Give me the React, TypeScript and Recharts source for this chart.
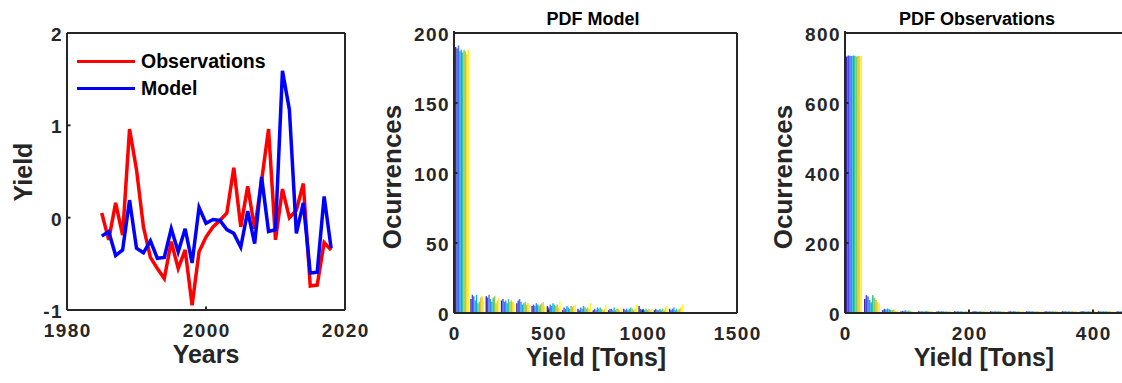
import { Bar, BarChart, Legend, Line, LineChart, XAxis, YAxis } from 'recharts'

// ---- yield anomalies ----
const years = [
  1985, 1986, 1987, 1988, 1989, 1990, 1991, 1992, 1993, 1994, 1995, 1996,
  1997, 1998, 1999, 2000, 2001, 2002, 2003, 2004, 2005, 2006, 2007, 2008,
  2009, 2010, 2011, 2012, 2013, 2014, 2015, 2016, 2017, 2018
]
const observations = [
  0.05, -0.24, 0.16, -0.19, 0.96, 0.52, -0.1, -0.43, -0.55, -0.66, -0.26,
  -0.55, -0.35, -0.95, -0.37, -0.21, -0.1, -0.03, 0.05, 0.54, -0.1, 0.34,
  -0.12, 0.4, 0.96, -0.24, 0.31, 0.0, 0.08, 0.37, -0.74, -0.73, -0.27, -0.35
]
const model = [
  -0.2, -0.15, -0.41, -0.35, 0.19, -0.33, -0.38, -0.25, -0.44, -0.43, -0.12,
  -0.37, -0.12, -0.49, 0.11, -0.06, -0.02, -0.03, -0.13, -0.17, -0.32, 0.07,
  -0.28, 0.44, -0.15, -0.13, 1.59, 1.17, -0.17, 0.16, -0.6, -0.59, 0.23, -0.33
]
const legendOrder = ['Observations', 'Model']

// ---- PDF model histogram (bin centers in tons, one row per run) ----
const modelBins = [
  40.5, 121.5, 202.5, 283.5, 364.5, 445.5, 526.5, 607.5, 688.5, 769.5, 850.5,
  931.5, 1012.5, 1093.5, 1174.5
]
const modelCounts = [
  [190, 10, 12, 9, 7, 5, 5, 2, 3, 2, 2, 3, 5, 2, 3],
  [189, 13, 11, 10, 9, 6, 4, 4, 2, 3, 3, 2, 3, 3, 2],
  [191, 12, 13, 8, 10, 5, 6, 3, 4, 2, 3, 3, 2, 2, 3],
  [187, 9, 10, 9, 8, 7, 5, 5, 3, 4, 2, 2, 3, 2, 4],
  [188, 13, 8, 7, 6, 6, 7, 4, 5, 3, 4, 3, 2, 3, 2],
  [186, 7, 11, 10, 7, 5, 6, 3, 4, 4, 2, 4, 3, 2, 3],
  [188, 8, 12, 8, 8, 6, 5, 5, 3, 3, 3, 3, 2, 3, 2],
  [187, 11, 7, 9, 6, 7, 6, 4, 4, 2, 3, 2, 3, 2, 3],
  [185, 12, 9, 8, 7, 8, 4, 5, 3, 3, 2, 3, 2, 4, 4],
  [188, 9, 11, 7, 6, 5, 8, 6, 7, 6, 4, 6, 3, 5, 6]
]

// ---- PDF observations histogram ----
const obsBins = [
  14.5, 43.5, 72.5, 101.5, 130.5, 159.5, 188.5, 217.5, 246.5, 275.5, 304.5,
  333.5, 362.5, 391.5, 420.5, 449.5
]
const obsCounts = [
  [733, 40, 8, 4, 5, 4, 5, 4, 5, 4, 5, 4, 5, 4, 5, 4],
  [736, 51, 12, 6, 4, 5, 4, 5, 4, 5, 4, 5, 4, 5, 4, 5],
  [735, 47, 10, 5, 5, 4, 5, 5, 4, 4, 5, 4, 5, 5, 4, 4],
  [734, 37, 13, 8, 4, 5, 4, 4, 5, 5, 4, 5, 4, 4, 5, 5],
  [736, 30, 11, 4, 5, 5, 5, 4, 4, 5, 5, 4, 5, 4, 4, 5],
  [735, 51, 9, 7, 6, 4, 4, 5, 5, 4, 4, 5, 4, 5, 5, 4],
  [733, 44, 8, 5, 5, 5, 4, 4, 5, 5, 4, 4, 5, 5, 4, 5],
  [734, 37, 10, 4, 4, 4, 5, 5, 4, 4, 5, 5, 4, 4, 5, 4],
  [735, 31, 7, 3, 5, 5, 4, 4, 5, 4, 4, 5, 5, 4, 4, 5],
  [734, 28, 6, 3, 4, 4, 5, 5, 4, 5, 5, 4, 4, 5, 5, 4]
]

// parula
const runColors = [
  '#3E26A8', '#4747EB', '#3E6FFF', '#2796EB', '#08B5D0',
  '#31C69F', '#81CC59', '#DCBD29', '#FCCF30', '#F9FB0E'
]

const AXIS = '#262626'
const FONT = "'Liberation Sans', Arial, Helvetica, sans-serif"
const tickStyle = {
  fontFamily: FONT,
  fontWeight: 700,
  fontSize: 19,
  letterSpacing: 1.4,
  fill: AXIS
}
const labelStyle = { fontFamily: FONT, fontWeight: 700, fill: AXIS }

const lineData = years.map((year, i) => ({
  year,
  obs: observations[i],
  model: model[i]
}))

const toRows = (bins: number[], counts: number[][]) =>
  bins.map((x, b) => {
    const row: any = { x }
    counts.forEach((run, r) => {
      row['r' + r] = run[b]
    })
    return row
  })

const modelData = toRows(modelBins, modelCounts)
const obsData = toRows(obsBins, obsCounts)

const BottomTick = ({ x, y, payload }: any) => (
  <g>
    <line x1={x} y1={y} x2={x} y2={y - 3.5} stroke={AXIS} strokeWidth={2} />
    <text x={x + 0.7} y={y + 27} textAnchor='middle' style={tickStyle}>
      {payload.value}
    </text>
  </g>
)

const LeftTick = ({ x, y, payload }: any) => (
  <g>
    <line x1={x} y1={y} x2={x + 3.5} y2={y} stroke={AXIS} strokeWidth={2} />
    <text x={x - 4} y={y + 8} textAnchor='end' style={tickStyle}>
      {payload.value}
    </text>
  </g>
)

const TopTick = ({ x, y }: any) => (
  <line x1={x} y1={y} x2={x} y2={y + 3.5} stroke={AXIS} strokeWidth={2} />
)

const RightTick = ({ x, y }: any) => (
  <line x1={x} y1={y} x2={x - 3.5} y2={y} stroke={AXIS} strokeWidth={2} />
)

const axisLine = { stroke: AXIS, strokeWidth: 2 }

const LegendBox = ({ payload }: any) => {
  const items = [...(payload || [])].sort(
    (a: any, b: any) => legendOrder.indexOf(a.value) - legendOrder.indexOf(b.value)
  )
  return (
    <div
      style={{
        fontFamily: FONT,
        fontWeight: 700,
        fontSize: 19.5,
        color: '#000'
      }}
    >
      {items.map((p: any) => (
        <div
          key={p.value}
          style={{ display: 'flex', alignItems: 'center', height: 27 }}
        >
          <span
            style={{
              display: 'inline-block',
              width: 58,
              height: 3.5,
              background: p.color,
              marginRight: 6
            }}
          />
          {p.value}
        </div>
      ))}
    </div>
  )
}

function Histogram({
  data,
  xDomain,
  xTicks,
  yDomain,
  yTicks,
  barSize,
  left,
  width,
  margin
}: any) {
  return (
    <div style={{ position: 'absolute', left, top: 0 }}>
      <BarChart
        width={width}
        height={383}
        data={data}
        margin={margin}
        barGap={0}
        barCategoryGap={0}
        barSize={barSize}
      >
        <XAxis
          dataKey='x'
          type='number'
          domain={xDomain}
          ticks={xTicks}
          height={40}
          tickSize={0}
          tickMargin={0}
          tickLine={false}
          axisLine={axisLine}
          tick={<BottomTick />}
          interval={0}
        />
        <XAxis
          xAxisId='t'
          orientation='top'
          type='number'
          domain={xDomain}
          ticks={xTicks}
          height={1}
          tickSize={0}
          tickLine={false}
          axisLine={axisLine}
          tick={<TopTick />}
          interval={0}
        />
        <YAxis
          type='number'
          domain={yDomain}
          ticks={yTicks}
          width={60}
          tickSize={0}
          tickMargin={0}
          tickLine={false}
          axisLine={axisLine}
          tick={<LeftTick />}
          interval={0}
        />
        <YAxis
          yAxisId='r'
          orientation='right'
          type='number'
          domain={yDomain}
          ticks={yTicks}
          width={1}
          tickSize={0}
          tickLine={false}
          axisLine={axisLine}
          tick={<RightTick />}
          interval={0}
        />
        {runColors.map((c, r) => (
          <Bar
            key={r}
            dataKey={'r' + r}
            fill={c}
            isAnimationActive={false}
          />
        ))}
      </BarChart>
    </div>
  )
}

export default function App() {
  return (
    <div
      style={{
        position: 'absolute',
        left: 0,
        top: 0,
        width: 1122,
        height: 383,
        overflow: 'hidden',
        background: '#fff'
      }}
    >
      <div style={{ position: 'absolute', left: 0, top: 0 }}>
        <LineChart
          width={385}
          height={383}
          data={lineData}
          margin={{ top: 32, right: 39, bottom: 33, left: 7 }}
        >
          <XAxis
            dataKey='year'
            type='number'
            domain={[1980, 2020]}
            ticks={[1980, 2000, 2020]}
            height={40}
            tickSize={0}
            tickMargin={0}
            tickLine={false}
            axisLine={axisLine}
            tick={<BottomTick />}
            interval={0}
          />
          <XAxis
            xAxisId='t'
            orientation='top'
            type='number'
            domain={[1980, 2020]}
            ticks={[1980, 2000, 2020]}
            height={1}
            tickSize={0}
            tickLine={false}
            axisLine={axisLine}
            tick={<TopTick />}
            interval={0}
          />
          <YAxis
            type='number'
            domain={[-1, 2]}
            ticks={[-1, 0, 1, 2]}
            width={60}
            tickSize={0}
            tickMargin={0}
            tickLine={false}
            axisLine={axisLine}
            tick={<LeftTick />}
            interval={0}
          />
          <YAxis
            yAxisId='r'
            orientation='right'
            type='number'
            domain={[-1, 2]}
            ticks={[-1, 0, 1, 2]}
            width={1}
            tickSize={0}
            tickLine={false}
            axisLine={axisLine}
            tick={<RightTick />}
            interval={0}
          />
          <Legend
            layout='vertical'
            align='center'
            verticalAlign='middle'
            content={<LegendBox />}
            wrapperStyle={{ left: 77, top: 48, width: 220 }}
          />
          <Line
            dataKey='obs'
            name='Observations'
            stroke='#ff0000'
            strokeWidth={3.5}
            dot={false}
            isAnimationActive={false}
          />
          <Line
            dataKey='model'
            name='Model'
            stroke='#0000ff'
            strokeWidth={3.5}
            dot={false}
            isAnimationActive={false}
          />
        </LineChart>
      </div>

      <Histogram
        data={modelData}
        xDomain={[0, 1500]}
        xTicks={[0, 500, 1000, 1500]}
        yDomain={[0, 200]}
        yTicks={[0, 50, 100, 150, 200]}
        barSize={1.4}
        left={370}
        width={405}
        margin={{ top: 32, right: 37, bottom: 30, left: 24 }}
      />
      <Histogram
        data={obsData}
        xDomain={[0, 450]}
        xTicks={[0, 200, 400]}
        yDomain={[0, 800]}
        yTicks={[0, 200, 400, 600, 800]}
        barSize={1.6}
        left={760}
        width={370}
        margin={{ top: 32, right: 5, bottom: 30, left: 25 }}
      />

      <svg
        width={1122}
        height={383}
        style={{ position: 'absolute', left: 0, top: 0, pointerEvents: 'none' }}
      >
        <text
          x={32}
          y={172}
          textAnchor='middle'
          transform='rotate(-90 32 172)'
          style={{ ...labelStyle, fontSize: 25 }}
        >
          Yield
        </text>
        <text x={206} y={363} textAnchor='middle' style={{ ...labelStyle, fontSize: 25 }}>
          Years
        </text>

        <text x={593} y={25} textAnchor='middle' style={{ ...labelStyle, fontSize: 18, fill: '#000' }}>
          PDF Model
        </text>
        <text
          x={401}
          y={177}
          textAnchor='middle'
          transform='rotate(-90 401 177)'
          style={{ ...labelStyle, fontSize: 26 }}
        >
          Ocurrences
        </text>
        <text x={596} y={366} textAnchor='middle' style={{ ...labelStyle, fontSize: 25 }}>
          Yield [Tons]
        </text>

        <text x={977} y={25} textAnchor='middle' style={{ ...labelStyle, fontSize: 18, fill: '#000' }}>
          PDF Observations
        </text>
        <text
          x={792}
          y={177}
          textAnchor='middle'
          transform='rotate(-90 792 177)'
          style={{ ...labelStyle, fontSize: 26 }}
        >
          Ocurrences
        </text>
        <text x={984} y={366} textAnchor='middle' style={{ ...labelStyle, fontSize: 25 }}>
          Yield [Tons]
        </text>
      </svg>
    </div>
  )
}
